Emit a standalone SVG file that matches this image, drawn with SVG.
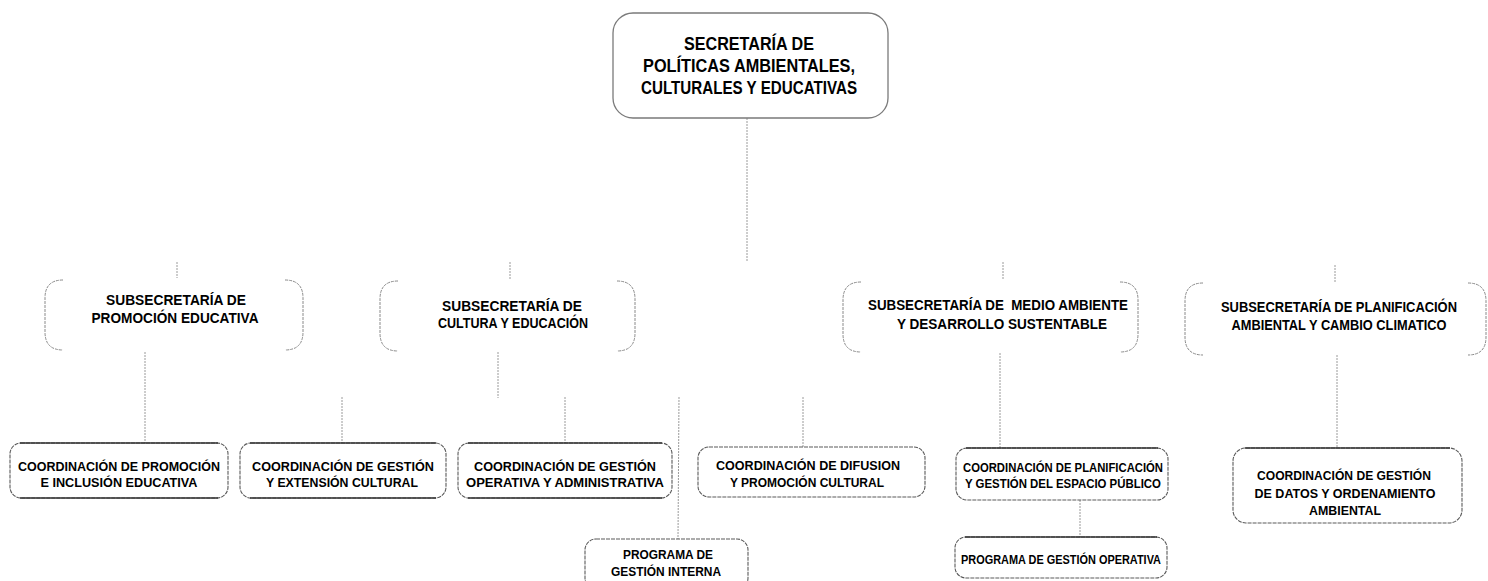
<svg xmlns="http://www.w3.org/2000/svg" width="1488" height="581" viewBox="0 0 1488 581">
<style>
  text { font-family: "Liberation Sans", Arial, sans-serif; font-weight: bold; fill: #000; text-anchor: middle; }
  .t16 { font-size: 17.5px; }
  .t14 { font-size: 14.5px; }
  .t12 { font-size: 13.5px; }
  .top { fill: #fff; stroke: #7a7a7a; stroke-width: 1.3; }
  .brk { fill: none; stroke: #8a8a8a; stroke-width: 1; stroke-dasharray: 3 1; }
  .box { fill: #fff; stroke: #5a5a5a; stroke-width: 1.1; stroke-dasharray: 4 1; }
  .edge { fill: none; stroke: #333; stroke-width: 1.4; }
  .conn line { stroke: #9a9a9a; stroke-width: 1; stroke-dasharray: 2 1; }
</style>
<rect width="1488" height="581" fill="#fff"/>

<g id="connectors" class="conn">
  <line x1="747" y1="118" x2="747" y2="262"/>
  <line x1="177" y1="262" x2="177" y2="278"/>
  <line x1="510" y1="262" x2="510" y2="280"/>
  <line x1="1003" y1="262" x2="1003" y2="280"/>
  <line x1="1335" y1="265" x2="1335" y2="282"/>
  <line x1="145" y1="352" x2="145" y2="443"/>
  <line x1="342" y1="397" x2="342" y2="443"/>
  <line x1="498" y1="352" x2="498" y2="398"/>
  <line x1="565" y1="397" x2="565" y2="443"/>
  <line x1="679" y1="397" x2="678" y2="539"/>
  <line x1="803" y1="397" x2="803" y2="447"/>
  <line x1="1000" y1="353" x2="1000" y2="448"/>
  <line x1="1337" y1="355" x2="1337" y2="448"/>
  <line x1="1080" y1="500" x2="1080" y2="537"/>
</g>

<g id="secretaria">
  <rect class="top" x="613" y="13" width="275" height="105" rx="20"/>
  <text class="t16" x="749" y="50" textLength="130" lengthAdjust="spacingAndGlyphs">SECRETARÍA DE</text>
  <text class="t16" x="749" y="72" textLength="212" lengthAdjust="spacingAndGlyphs">POLÍTICAS AMBIENTALES,</text>
  <text class="t16" x="749" y="94" textLength="216" lengthAdjust="spacingAndGlyphs">CULTURALES Y EDUCATIVAS</text>
</g>

<g id="sub-promocion">
  <path class="brk" d="M63,280 Q45,280 45,298 V332 Q45,350 63,350"/>
  <path class="brk" d="M285,280 Q303,280 303,298 V332 Q303,350 285,350"/>
  <text class="t14" x="176" y="305" textLength="140" lengthAdjust="spacingAndGlyphs">SUBSECRETARÍA DE</text>
  <text class="t14" x="175" y="323" textLength="167" lengthAdjust="spacingAndGlyphs">PROMOCIÓN EDUCATIVA</text>
</g>

<g id="sub-cultura">
  <path class="brk" d="M398,281 Q380,281 380,299 V333 Q380,351 398,351"/>
  <path class="brk" d="M617,281 Q635,281 635,299 V333 Q635,351 617,351"/>
  <text class="t14" x="512" y="311" textLength="140" lengthAdjust="spacingAndGlyphs">SUBSECRETARÍA DE</text>
  <text class="t14" x="513" y="328" textLength="150" lengthAdjust="spacingAndGlyphs">CULTURA Y EDUCACIÓN</text>
</g>

<g id="sub-medioambiente">
  <path class="brk" d="M861,282 Q843,282 843,300 V334 Q843,352 861,352"/>
  <path class="brk" d="M1120,282 Q1138,282 1138,300 V334 Q1138,352 1120,352"/>
  <text class="t14" x="998" y="310" xml:space="preserve" textLength="260" lengthAdjust="spacingAndGlyphs">SUBSECRETARÍA DE  MEDIO AMBIENTE</text>
  <text class="t14" x="1002" y="329" textLength="210" lengthAdjust="spacingAndGlyphs">Y DESARROLLO SUSTENTABLE</text>
</g>

<g id="sub-planificacion">
  <path class="brk" d="M1203,283 Q1185,283 1185,301 V337 Q1185,355 1203,355"/>
  <path class="brk" d="M1468,283 Q1486,283 1486,301 V337 Q1486,355 1468,355"/>
  <text class="t14" x="1339" y="312" textLength="236" lengthAdjust="spacingAndGlyphs">SUBSECRETARÍA DE PLANIFICACIÓN</text>
  <text class="t14" x="1339" y="330" textLength="215" lengthAdjust="spacingAndGlyphs">AMBIENTAL Y CAMBIO CLIMATICO</text>
</g>

<g id="coord-promocion">
  <rect class="box" x="10" y="443" width="218" height="55" rx="11"/>
  <path class="edge" d="M20,443 H218 M20,498 H218"/>
  <text class="t12" x="119" y="471" textLength="202" lengthAdjust="spacingAndGlyphs">COORDINACIÓN DE PROMOCIÓN</text>
  <text class="t12" x="119" y="487" textLength="157" lengthAdjust="spacingAndGlyphs">E INCLUSIÓN EDUCATIVA</text>
</g>

<g id="coord-extension">
  <rect class="box" x="240" y="443" width="206" height="55" rx="11"/>
  <path class="edge" d="M250,443 H436 M250,498 H436"/>
  <text class="t12" x="343" y="471" textLength="182" lengthAdjust="spacingAndGlyphs">COORDINACIÓN DE GESTIÓN</text>
  <text class="t12" x="342" y="487" textLength="152" lengthAdjust="spacingAndGlyphs">Y EXTENSIÓN CULTURAL</text>
</g>

<g id="coord-operativa">
  <rect class="box" x="458" y="443" width="214" height="55" rx="11"/>
  <path class="edge" d="M468,443 H662 M468,498 H662"/>
  <text class="t12" x="565" y="471" textLength="182" lengthAdjust="spacingAndGlyphs">COORDINACIÓN DE GESTIÓN</text>
  <text class="t12" x="565" y="487" textLength="198" lengthAdjust="spacingAndGlyphs">OPERATIVA Y ADMINISTRATIVA</text>
</g>

<g id="coord-difusion">
  <rect class="box" x="698" y="447" width="227" height="50" rx="11"/>
  <text class="t12" x="808" y="470" textLength="184" lengthAdjust="spacingAndGlyphs">COORDINACIÓN DE DIFUSION</text>
  <text class="t12" x="807" y="487" textLength="154" lengthAdjust="spacingAndGlyphs">Y PROMOCIÓN CULTURAL</text>
</g>

<g id="coord-planificacion">
  <rect class="box" x="956" y="448" width="212" height="52" rx="11"/>
  <path class="edge" d="M966,448 H1158"/>
  <text class="t12" x="1063" y="472" textLength="200" lengthAdjust="spacingAndGlyphs">COORDINACIÓN DE PLANIFICACIÓN</text>
  <text class="t12" x="1063" y="488" textLength="196" lengthAdjust="spacingAndGlyphs">Y GESTIÓN DEL ESPACIO PÚBLICO</text>
</g>

<g id="coord-datos">
  <rect class="box" x="1233" y="448" width="229" height="75" rx="13"/>
  <path class="edge" d="M1245,448 H1450"/>
  <text class="t12" x="1344" y="480" textLength="174" lengthAdjust="spacingAndGlyphs">COORDINACIÓN DE GESTIÓN</text>
  <text class="t12" x="1345" y="498" textLength="181" lengthAdjust="spacingAndGlyphs">DE DATOS Y ORDENAMIENTO</text>
  <text class="t12" x="1345" y="515" textLength="72" lengthAdjust="spacingAndGlyphs">AMBIENTAL</text>
</g>

<g id="prog-interna">
  <rect class="box" x="585" y="539" width="163" height="50" rx="11"/>
  <text class="t12" x="668" y="559" textLength="90" lengthAdjust="spacingAndGlyphs">PROGRAMA DE</text>
  <text class="t12" x="666" y="576" textLength="110" lengthAdjust="spacingAndGlyphs">GESTIÓN INTERNA</text>
</g>

<g id="prog-operativa">
  <rect class="box" x="955" y="537" width="212" height="41" rx="11"/>
  <path class="edge" d="M965,537 H1157"/>
  <text class="t12" x="1061" y="564" textLength="200" lengthAdjust="spacingAndGlyphs">PROGRAMA DE GESTIÓN OPERATIVA</text>
</g>
</svg>
